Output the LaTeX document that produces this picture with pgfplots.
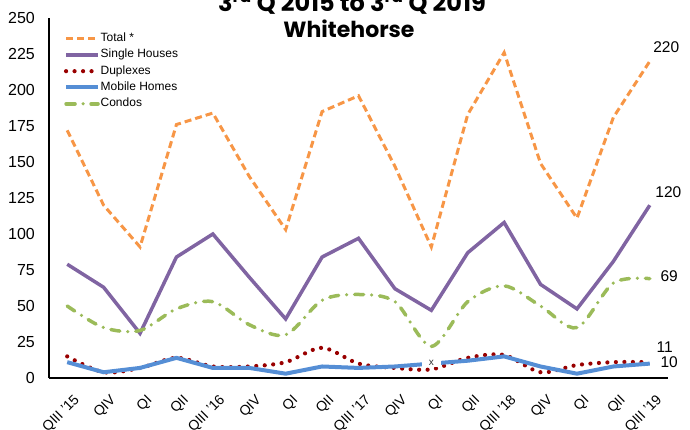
\documentclass[border=0pt]{standalone}
\usepackage{pgfplots}
\pgfplotsset{compat=1.18}
\usepackage{fontspec}
\setmainfont{Liberation Sans}
\newfontfamily\titlefont{Poppins}
\definecolor{cTotal}{HTML}{F79646}
\definecolor{cSingle}{HTML}{8064A2}
\definecolor{cDup}{HTML}{990000}
\definecolor{cMob}{HTML}{558ED5}
\definecolor{cCondo}{HTML}{9BBB59}
\pgfplotstableread{
x total single dup mob condo
0 172 79 15 11 50
1 120 63 4 4 35
2 91 31 7 7 33
3 176 84 14 14 48
4 184 100 8 7 53
5 140 70 8 7 37
6 103 41 11 3 30
7 185 84 21 8 54
8 196 97 10 7 58
9 147 62 7 8 53
10 91 47 6 10 22
11 183 87 14 12 53
12 226 108 16 15 64
13 149 65 4 8 50
14 111 48 9 3 35
15 181 81 11 8 66
16 220 120 11 10 69
}\datatable
\begin{document}
\begin{tikzpicture}[x=1pt,y=1pt]
\begin{axis}[
  at={(49pt,51pt)}, anchor=south west,
  scale only axis, width=619pt, height=360pt,
  xmin=-0.5, xmax=16.5, ymin=0, ymax=250,
  axis x line*=bottom, axis y line*=left,
  axis line style={line width=1.4pt, -},
  major tick length=0pt,
  ytick={0,25,...,250},
  xtick={0,...,16},
  xticklabels={QIII '15,QIV,QI,QII,QIII '16,QIV,QI,QII,QIII '17,QIV,QI,QII,QIII '18,QIV,QI,QII,QIII '19},
  /pgf/number format/assume math mode=true,
  yticklabel style={font=\fontsize{16}{18}\selectfont, inner sep=0pt, xshift=-14pt},
  xticklabel style={font=\fontsize{14}{16}\selectfont, rotate=45, anchor=north east, inner sep=0pt, xshift=-7pt, yshift=-15pt},
  clip=false,
  legend image code/.code={\draw[#1] (0pt,0pt) -- (32pt,0pt);},
  legend cell align=left,
  legend style={draw=none, fill=none, at={(0.019,0.967)}, anchor=north west,
    font=\fontsize{12}{14}\selectfont, row sep=3.3pt,
    nodes={inner sep=0.5pt, text height=9pt, text depth=3pt},
    column 2/.style={xshift=-3.5pt}},
]
\addplot[cTotal, line width=3pt, dash pattern=on 7pt off 4pt] table[x=x,y=total]{\datatable};
\addlegendentry{Total *}
\addplot[cSingle, line width=3.5pt] table[x=x,y=single]{\datatable};
\addlegendentry{Single Houses}
\addplot[cDup, line width=4.2pt, line cap=round, dash pattern=on 0pt off 8.5pt, smooth, tension=0.5] table[x=x,y=dup]{\datatable};
\addlegendentry{Duplexes}
\addplot[cMob, line width=4pt] table[x=x,y=mob]{\datatable};
\addlegendentry{Mobile Homes}
\addplot[cCondo, line width=3.5pt, line cap=round, dash pattern=on 9pt off 8pt on 0pt off 8pt, smooth, tension=0.5] table[x=x,y=condo]{\datatable};
\addlegendentry{Condos}
% suppressed value marker
\addplot[draw=none, forget plot, nodes near coords, point meta=explicit symbolic,
  every node near coord/.style={anchor=center, fill=white, inner xsep=7pt, inner ysep=1.5pt, font=\fontsize{10}{11}\selectfont, text=black!80}]
  coordinates {(10,10.5) [x]};
% end labels
\addplot[draw=none, forget plot, nodes near coords, point meta=explicit symbolic,
  every node near coord/.style={anchor=south west, inner sep=0pt, font=\fontsize{15.5}{17}\selectfont}]
  coordinates {(16.09,225.7) [220] (16.15,125) [120] (16.18,17.3) [11]};
\addplot[draw=none, forget plot, nodes near coords, point meta=explicit symbolic,
  every node near coord/.style={anchor=west, inner sep=0pt, font=\fontsize{15.5}{17}\selectfont}]
  coordinates {(16.29,70.8) [69] (16.29,10.8) [10]};
\end{axis}
\node[font=\titlefont\bfseries\fontsize{22}{24}\selectfont, anchor=base] at (349pt,391.7pt) {Whitehorse};
\node[font=\titlefont\bfseries\fontsize{24}{26}\selectfont, anchor=base] at (352pt,417pt) {3\textsuperscript{rd} Q 2015 to 3\textsuperscript{rd} Q 2019};
\pgfresetboundingbox
\path[use as bounding box] (0,0) rectangle (690pt,429pt);
\end{tikzpicture}
\end{document}
